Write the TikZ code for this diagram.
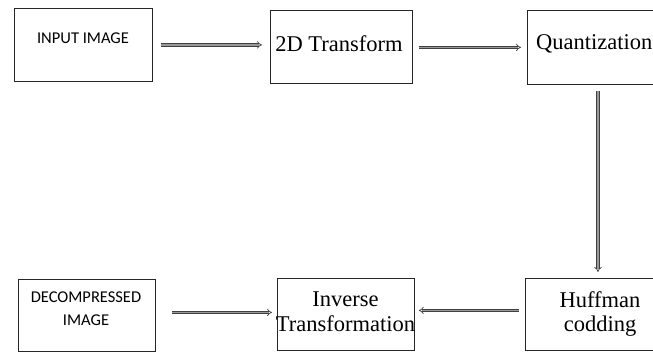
\documentclass[tikz,border=0pt]{standalone}
\usepackage{fontspec}
\setmainfont{Liberation Serif}
\newfontfamily\calfont{Carlito}
\usetikzlibrary{arrows.meta}
\begin{document}
\begin{tikzpicture}[x=1pt,y=-1pt,
  box/.style={draw=black!85,line width=0.8pt,inner sep=0pt,anchor=north west},
  sanslbl/.style={font=\calfont\fontsize{16.5}{23}\selectfont,align=center,inner sep=0pt},
  seriflbl/.style={font=\fontsize{22.5}{24.5}\selectfont,align=center,inner sep=0pt},
  dbl/.style={draw=black!75,line width=0.7pt,double=black!40,double distance=1.8pt,-{Implies[length=4pt,width=7pt]}}]
\useasboundingbox (0,0) rectangle (653,356);
\begin{scope}
\clip (0,0) rectangle (653,356);
% boxes
\node[box,minimum width=138pt,minimum height=73pt] (in) at (14,8) {};
\node[box,minimum width=142pt,minimum height=73pt] (tr) at (270,10) {};
\node[box,minimum width=140pt,minimum height=74pt] (qu) at (527,10) {};
\node[box,minimum width=140pt,minimum height=72pt] (hu) at (525,278) {};
\node[box,minimum width=137pt,minimum height=72pt] (iv) at (277,278) {};
\node[box,minimum width=137pt,minimum height=72pt] (de) at (18,279) {};
% texts
\node[sanslbl] (tin) at (83,38) {INPUT IMAGE};
\node[seriflbl] (ttr) at (339,44) {2D Transform};
\node[seriflbl,anchor=west] (tqu) at (536,44) {Quantization};
\node[seriflbl] (thu) at (600,314) {Huffman\\codding};
\node[seriflbl] (tiv) at (345.5,311.5) {Inverse\\Transformation};
\node[sanslbl] (tde) at (86,308.5) {DECOMPRESSED\\IMAGE};
% arrows
\coordinate (vx) at (598,0);
\draw[dbl,shorten <=8pt,shorten >=8pt] (in.east) -- (in.east -| tr.west);
\draw[dbl,shorten <=6pt,shorten >=6pt] ([yshift=-0.5pt]tr.east) -- ([yshift=-0.5pt]tr.east -| qu.west);
\draw[dbl,shorten <=6pt,shorten >=6pt] (qu.south -| vx) -- (hu.north -| vx);
\draw[dbl,shorten <=6pt,shorten >=4pt] ([yshift=4pt]hu.west) -- ([yshift=4pt]hu.west -| iv.east);
\draw[dbl,shorten <=16pt,shorten >=5pt] ([yshift=3pt]de.east) -- ([yshift=3pt]de.east -| iv.west);
\end{scope}
\end{tikzpicture}
\end{document}
